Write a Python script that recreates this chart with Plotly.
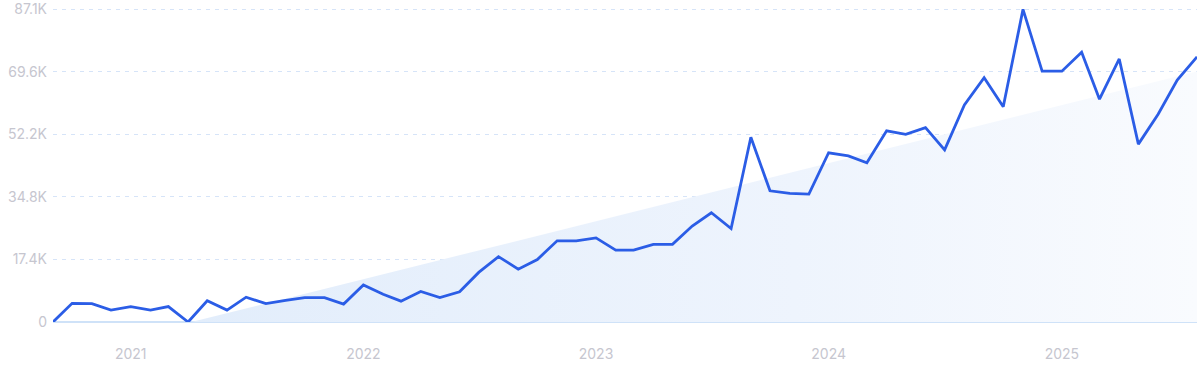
import pandas as pd
import plotly.graph_objects as go

months = pd.date_range("2020-09-01", "2025-08-01", freq="MS")
values = [
    0, 5200, 5100, 3300, 4300, 3300, 4300, 0, 5900, 3300,
    6900, 5100, 6000, 6800, 6800, 5000, 10300, 7700, 5800, 8500,
    6800, 8400, 13800, 18200, 14700, 17400, 22600, 22600, 23400, 20000,
    20000, 21600, 21600, 26700, 30400, 26000, 51400, 36500, 35800, 35600,
    47100, 46200, 44300, 53200, 52200, 54100, 47900, 60400, 68000, 59900,
    87000, 69800, 69800, 75100, 62000, 73200, 49500, 57800, 67300, 73800,
]
trend_x = ["2021-04-06", "2025-08-01"]
trend_y = [0, 69700]
tick_vals = [0, 17420, 34840, 52260, 69680, 87100]
tick_text = ["0", "17.4K", "34.8K", "52.2K", "69.6K", "87.1K"]
year_ticks = ["2021-01-01", "2022-01-01", "2023-01-01", "2024-01-01", "2025-01-01"]
year_labels = ["2021", "2022", "2023", "2024", "2025"]

fig = go.Figure()
fig.add_trace(go.Scatter(
    x=trend_x, y=trend_y, mode="lines", line=dict(width=0),
    fill="tozeroy",
    fillgradient=dict(type="horizontal",
                      colorscale=[[0, "#e2edfb"], [0.6, "#eef4fd"], [1, "#f9fbfe"]]),
    hoverinfo="skip", showlegend=False,
))
fig.add_trace(go.Scatter(
    x=months, y=values, mode="lines",
    line=dict(color="#2b5de6", width=2.8),
    showlegend=False, cliponaxis=False,
))
fig.update_layout(
    width=1200, height=371,
    margin=dict(l=53, r=3, t=7, b=49, autoexpand=False),
    paper_bgcolor="white", plot_bgcolor="white",
    font=dict(family="Inter, Roboto, sans-serif", size=14, color="#c6c6cf"),
)
fig.update_xaxes(
    range=["2020-09-01", "2025-08-01"],
    tickvals=year_ticks, ticktext=year_labels,
    showgrid=False, zeroline=False, showline=False,
    ticks="", ticklabelstandoff=22, automargin=False,
    ticklabeloverflow="allow",
)
fig.update_yaxes(
    range=[0, 87660], tickvals=tick_vals, ticktext=tick_text,
    showgrid=True, gridcolor="#d6e4f8", griddash="4px,5px", gridwidth=1,
    zeroline=True, zerolinecolor="#cfe2f8", zerolinewidth=1.5,
    showline=False, ticks="", ticklabelstandoff=5, automargin=False,
    ticklabeloverflow="allow",
)
fig.write_html("out.html", config={"displayModeBar": False},
               post_script="document.body.style.margin='0';")
